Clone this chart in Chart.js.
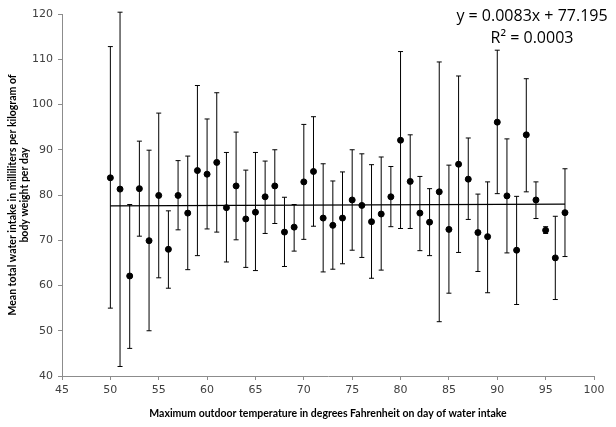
<!DOCTYPE html>
<html>
<head>
<meta charset="utf-8">
<script src="https://cdn.jsdelivr.net/npm/chart.js@4"></script>
<style>
  html, body { margin: 0; padding: 0; background: #fff; }
  #wrap { position: relative; width: 616px; height: 427px; }
  #eq {
    position: absolute; right: 4px; top: 4px; width: 160px;
    font-family: "Open Sans", "Liberation Sans", sans-serif; font-size: 16px;
    line-height: 22px; text-align: center; color: #000;
  }
</style>
</head>
<body>
<div id="wrap">
  <canvas id="chart" width="616" height="427"></canvas>
  <div id="eq">y = 0.0083x + 77.195<br>R² = 0.0003</div>
</div>
<script>
// temperature (°F) for each day group
var temps = [50, 51, 52, 53, 54, 55, 56, 57, 58, 59, 60, 61, 62, 63, 64, 65,
             66, 67, 68, 69, 70, 71, 72, 73, 74, 75, 76, 77, 78, 79, 80, 81,
             82, 83, 84, 85, 86, 87, 88, 89, 90, 91, 92, 93, 94, 95, 96, 97];

// mean water intake (ml/kg/day)
var means = [83.8, 81.3, 62.1, 81.4, 69.9, 79.9, 68.0, 79.9, 76.0, 85.4, 84.6, 87.2, 77.2, 82.0, 74.7, 76.2,
             79.6, 82.0, 71.8, 72.9, 82.9, 85.2, 74.9, 73.3, 74.9, 78.9, 77.7, 74.1, 75.8, 79.6, 92.1, 83.0,
             76.0, 74.0, 80.7, 72.4, 86.8, 83.5, 71.7, 70.8, 96.1, 79.8, 67.8, 93.3, 78.9, 72.2, 66.1, 76.1];

// error bar ends
var upper = [112.8, 120.4, 77.9, 91.9, 89.9, 98.1, 76.5, 87.6, 88.6, 104.2, 96.8, 102.6, 89.4, 93.9, 85.5, 89.4,
             87.5, 90.0, 79.5, 77.9, 95.6, 97.3, 86.9, 83.1, 85.1, 90.0, 89.1, 86.7, 88.4, 86.3, 111.7, 93.3,
             84.1, 81.4, 109.4, 86.6, 106.3, 92.6, 80.2, 82.9, 112.0, 92.4, 79.7, 105.7, 82.9, 73.0, 75.3, 85.8];
var lower = [55.0, 42.1, 46.1, 70.9, 50.0, 61.7, 59.4, 72.3, 63.5, 66.6, 72.5, 71.8, 65.2, 70.1, 64.0, 63.3,
             71.5, 73.7, 64.2, 67.6, 70.2, 73.1, 63.0, 63.6, 64.8, 67.8, 66.2, 61.6, 63.4, 73.0, 72.6, 72.6,
             67.7, 66.6, 52.0, 58.3, 67.3, 74.6, 63.1, 58.4, 80.3, 67.2, 55.8, 80.7, 74.8, 71.5, 56.9, 66.4];

// linear trendline from the chart
var slope = 0.0083;
var intercept = 77.195;

var xTicks = [45, 50, 55, 60, 65, 70, 75, 80, 85, 90, 95, 100];
var yTicks = [40, 50, 60, 70, 80, 90, 100, 110, 120];

var points = temps.map(function (t, i) { return { x: t, y: means[i] }; });
var tFirst = temps[0], tLast = temps[temps.length - 1];
var trend = [
  { x: tFirst, y: slope * tFirst + intercept },
  { x: tLast, y: slope * tLast + intercept }
];

// draw error bars with caps
var errorBars = {
  id: 'errorBars',
  beforeDatasetsDraw: function (chart) {
    var ctx = chart.ctx, xs = chart.scales.x, ys = chart.scales.y;
    ctx.save();
    ctx.strokeStyle = '#000';
    ctx.lineWidth = 1;
    for (var i = 0; i < temps.length; i++) {
      var px = xs.getPixelForValue(temps[i]);
      var top = ys.getPixelForValue(upper[i]);
      var bot = ys.getPixelForValue(lower[i]);
      ctx.beginPath();
      ctx.moveTo(px, top); ctx.lineTo(px, bot);
      ctx.moveTo(px - 2.5, top); ctx.lineTo(px + 2.5, top);
      ctx.moveTo(px - 2.5, bot); ctx.lineTo(px + 2.5, bot);
      ctx.stroke();
    }
    ctx.restore();
  }
};

var tickFont = { family: 'DejaVu Sans', size: 11 };
var titleFont = { family: 'Lato', size: 10.5, weight: 'bold' };

new Chart('chart', {
  type: 'scatter',
  data: {
    datasets: [{
      data: points,
      backgroundColor: '#000',
      borderColor: '#000',
      pointRadius: 3,
      order: 1
    }, {
      type: 'line',
      data: trend,
      borderColor: '#000',
      borderWidth: 1.2,
      pointRadius: 0,
      fill: false,
      order: 2
    }]
  },
  options: {
    responsive: false,
    animation: false,
    events: [],
    layout: { padding: { top: 14, right: 22, left: 6, bottom: 7 } },
    plugins: { legend: { display: false }, tooltip: { enabled: false } },
    scales: {
      x: {
        type: 'linear', min: 45, max: 100,
        afterBuildTicks: function (s) { s.ticks = xTicks.map(function (v) { return { value: v }; }); },
        afterFit: function (s) { s.height = 44; },
        grid: { drawOnChartArea: false, tickLength: 4, color: '#8c8c8c' },
        border: { color: '#8c8c8c' },
        ticks: { font: tickFont, color: '#404040', padding: 4, maxRotation: 0 },
        title: {
          display: true,
          text: 'Maximum outdoor temperature in degrees Fahrenheit on day of water intake',
          font: titleFont, color: '#000', padding: { top: 2, bottom: 0 }
        }
      },
      y: {
        type: 'linear', min: 40, max: 120,
        afterBuildTicks: function (s) { s.ticks = yTicks.map(function (v) { return { value: v }; }); },
        afterFit: function (s) { s.width = 56; },
        grid: { drawOnChartArea: false, tickLength: 4, color: '#8c8c8c' },
        border: { color: '#8c8c8c' },
        ticks: { font: tickFont, color: '#404040', padding: 5 },
        title: {
          display: true,
          text: ['Mean total water intake in milliliters per kilogram of', 'body weight per day'],
          font: titleFont, color: '#000', padding: { top: 0, bottom: 2 }
        }
      }
    }
  },
  plugins: [errorBars]
});
</script>
</body>
</html>
